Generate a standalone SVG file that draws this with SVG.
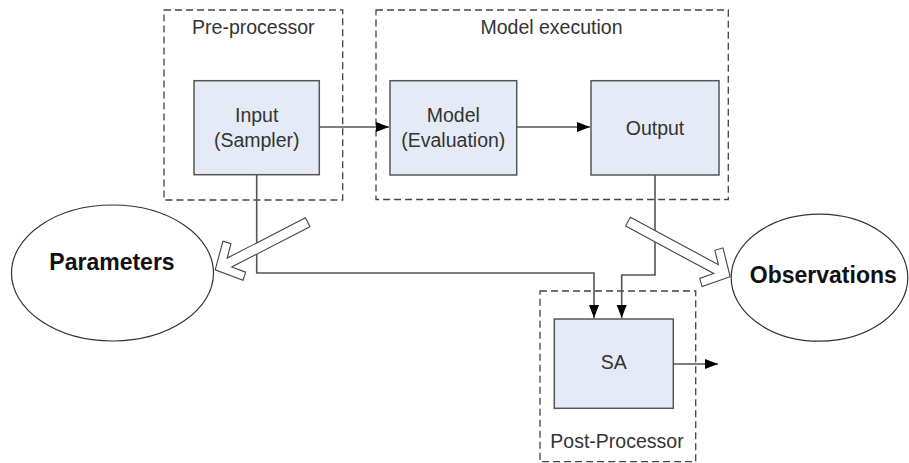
<svg xmlns="http://www.w3.org/2000/svg" width="909" height="463" viewBox="0 0 909 463">
  <style>
    .grp { fill: none; stroke: #444; stroke-width: 1.3; stroke-dasharray: 7 4; }
    .box { fill: #e5ebf6; stroke: #555; stroke-width: 1.5; }
    .lbl { font-family: "Liberation Sans", Arial, sans-serif; font-size: 19.5px; fill: #333; text-anchor: middle; }
    .big { font-family: "Liberation Sans", Arial, sans-serif; font-size: 23px; font-weight: bold; fill: #111; text-anchor: middle; }
    .ell { fill: #fff; stroke: #333; stroke-width: 1.2; }
    .conn { fill: none; stroke: #555; stroke-width: 1.6; }
    .blk { fill: #fff; stroke: #444; stroke-width: 1.1; stroke-linejoin: miter; }
  </style>
  <defs>
    <marker id="ah" markerUnits="userSpaceOnUse" markerWidth="14" markerHeight="12" refX="13" refY="5" orient="auto">
      <path d="M0,0 L13,5 L0,10 Z" fill="#000"/>
    </marker>
  </defs>
  <rect width="909" height="463" fill="#fff"/>

  <g id="pre-processor">
    <rect class="grp" x="164" y="10" width="178.7" height="190"/>
    <text class="lbl" x="253.3" y="34.3">Pre-processor</text>
  </g>
  <g id="model-execution">
    <rect class="grp" x="376" y="10" width="352.3" height="189.5"/>
    <text class="lbl" x="551.5" y="34.3">Model execution</text>
  </g>
  <g id="post-processor">
    <rect class="grp" x="540" y="291" width="155.7" height="170.7"/>
    <text class="lbl" x="617" y="448.3">Post-Processor</text>
  </g>

  <g id="parameters">
    <ellipse class="ell" cx="112.5" cy="273" rx="101" ry="68"/>
    <text class="big" x="112" y="270">Parameters</text>
  </g>
  <g id="observations">
    <ellipse class="ell" cx="819.5" cy="277.7" rx="88.3" ry="63.5"/>
    <text class="big" x="823.3" y="283.3">Observations</text>
  </g>

  <g id="connectors">
    <path class="conn" d="M319.3,127 L389,127" marker-end="url(#ah)"/>
    <path class="conn" d="M516.7,127 L590,127" marker-end="url(#ah)"/>
    <path class="conn" d="M256.7,175 L256.7,273 L594,273 L594,318" marker-end="url(#ah)"/>
    <path class="conn" d="M655,175 L655,275 L621.7,275 L621.7,318" marker-end="url(#ah)"/>
    <path class="conn" d="M673.3,364 L718,364" marker-end="url(#ah)"/>
    <polygon class="blk" transform="translate(307.7,222.3) rotate(152.8)" points="0,-5 88,-5 78,-16 84,-22 104,0 84,22 78,16 88,5 0,5"/>
    <polygon class="blk" transform="translate(628,221.7) rotate(28.3)" points="0,-5 100,-5 90,-16 96,-22 116,0 96,22 90,16 100,5 0,5"/>
  </g>

  <g id="input">
    <rect class="box" x="194" y="80.7" width="125.3" height="94"/>
    <text class="lbl" x="256.7" y="122">Input</text>
    <text class="lbl" x="256.7" y="147">(Sampler)</text>
  </g>
  <g id="model">
    <rect class="box" x="390" y="80.7" width="126.7" height="94.3"/>
    <text class="lbl" x="453.3" y="122">Model</text>
    <text class="lbl" x="453.3" y="147">(Evaluation)</text>
  </g>
  <g id="output">
    <rect class="box" x="591" y="80.7" width="128" height="94.3"/>
    <text class="lbl" x="655" y="134.5">Output</text>
  </g>
  <g id="sa">
    <rect class="box" x="554.3" y="319" width="119" height="89.3"/>
    <text class="lbl" x="613.8" y="369">SA</text>
  </g>
</svg>
